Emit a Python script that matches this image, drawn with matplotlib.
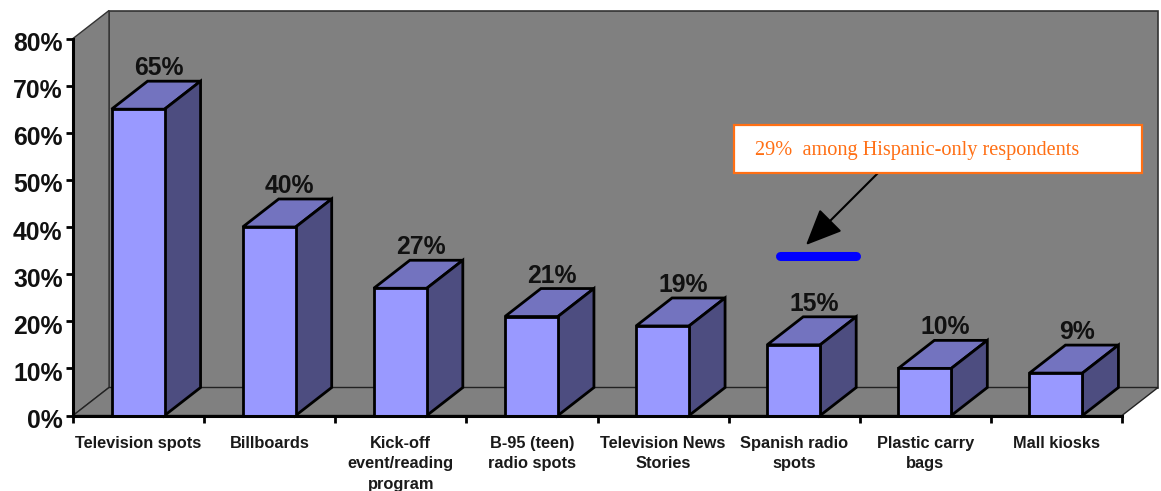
import matplotlib
matplotlib.use('Agg')
import matplotlib.pyplot as plt
from matplotlib.patches import Polygon, Rectangle
from matplotlib.transforms import ScaledTranslation

categories = ['Television spots', 'Billboards', 'Kick-off\nevent/reading\nprogram', 'B-95 (teen)\nradio spots',
              'Television News\nStories', 'Spanish radio\nspots', 'Plastic carry\nbags', 'Mall kiosks']
values = [65, 40, 27, 21, 19, 15, 10, 9]
y_ticks = [0, 10, 20, 30, 40, 50, 60, 70, 80]
hispanic_value = 29
hispanic_idx = 5
note = '29%  among Hispanic-only respondents'

W, H = 1161, 491
FRONT = '#9999ff'
TOP = '#7373bf'
SIDE = '#4d4d80'
WALL = '#808080'
ORANGE = '#ff6f14'

plt.rcParams['font.family'] = ['Liberation Sans', 'DejaVu Sans']

fig = plt.figure(figsize=(W / 100, H / 100), dpi=100, facecolor='white')
ax = fig.add_axes([73 / W, (H - 415.5) / H, 1049 / W, 377 / H])
ax.set_xlim(0, len(values))
ax.set_ylim(0, 80)
ax.patch.set_visible(False)

# depth of the fake 3d box, in data units
dx = 36 / 131.1
dy = 28 / 4.7125
bar_w = 0.404
bar_shift = -0.5 / 131.1


def poly(pts, fc, ec='black', lw=1.0, z=1):
    ax.add_patch(Polygon(pts, closed=True, fc=fc, ec=ec, lw=lw, zorder=z, clip_on=False, joinstyle='miter'))


n = len(values)
# back wall, side wall, floor
poly([(dx, dy), (n + dx, dy), (n + dx, 80 + dy), (dx, 80 + dy)], WALL, ec='#333333', lw=1.2)
poly([(0, 0), (dx, dy), (dx, 80 + dy), (0, 80)], WALL, ec='#333333', lw=1.0)
poly([(0, 0), (n, 0), (n + dx, dy), (dx, dy)], WALL, ec='#222222', lw=1.0)

# bars
xs = [i + 0.5 for i in range(n)]
bar_xs = [x + bar_shift for x in xs]
ax.bar(bar_xs, values, width=bar_w, color=FRONT, edgecolor='black', linewidth=2.0, zorder=4, clip_on=False)
for x, v in zip(bar_xs, values):
    l, r = x - bar_w / 2, x + bar_w / 2
    poly([(l, v), (r, v), (r + dx, v + dy), (l + dx, v + dy)], TOP, lw=2.0, z=3)
    poly([(r, 0), (r + dx, dy), (r + dx, v + dy), (r, v)], SIDE, lw=2.0, z=3)
    ax.text(x + dx / 2 + 0.02, v + dy + 0.2, f'{v}%', ha='center', va='bottom', fontsize=17.8, fontweight='bold',
            color='#111111', zorder=6)

# axes
for s in ['top', 'right']:
    ax.spines[s].set_visible(False)
for s in ['left', 'bottom']:
    ax.spines[s].set_linewidth(2.2)
    ax.spines[s].set_zorder(7)
ax.set_yticks(y_ticks)
ax.set_yticklabels([f'{t}%' for t in y_ticks], fontsize=17.8, fontweight='bold', color='#111111')
ax.tick_params(axis='y', length=5, width=2, pad=2.5)
# the labels hang a little below their ticks
for lab in ax.get_yticklabels():
    lab.set_transform(lab.get_transform() + ScaledTranslation(0, -3 / 100, fig.dpi_scale_trans))
ax.set_xticks(range(n + 1))
ax.set_xticklabels([])
ax.tick_params(axis='x', which='major', length=5, width=2)
ax.set_xticks(xs, minor=True)
ax.set_xticklabels(categories, minor=True, fontsize=11.8, fontweight='bold', color='#1a1a1a', linespacing=1.45)
ax.tick_params(axis='x', which='minor', length=0, pad=14.7)

# blue marker for the hispanic-only figure
hx = hispanic_idx + 0.5 + dx * 0.65
ax.plot([hx - 0.29, hx + 0.29], [hispanic_value + dy * 0.82] * 2, color='#0000ff', lw=6.5,
        solid_capstyle='round', zorder=8, clip_on=False)

# note box and arrow, placed in figure pixels
fig.add_artist(Rectangle((734 / W, (H - 173) / H), 408 / W, 48 / H, transform=fig.transFigure,
                         fc='white', ec=ORANGE, lw=1.6, zorder=9))
fig.text(755 / W, (H - 151) / H, note, family=['Liberation Serif', 'DejaVu Serif'], fontsize=14.55,
         color=ORANGE, va='center', ha='left', zorder=10)
ax.annotate('', xy=(806 / W, (H - 245) / H), xytext=(879 / W, (H - 172) / H),
            xycoords='figure fraction', textcoords='figure fraction',
            arrowprops=dict(arrowstyle='-|>,head_length=1.25,head_width=0.55', color='black', lw=1.5,
                            shrinkA=0, shrinkB=0, mutation_scale=18), zorder=9, annotation_clip=False)

fig.savefig('out.png', dpi=100, facecolor='white')
